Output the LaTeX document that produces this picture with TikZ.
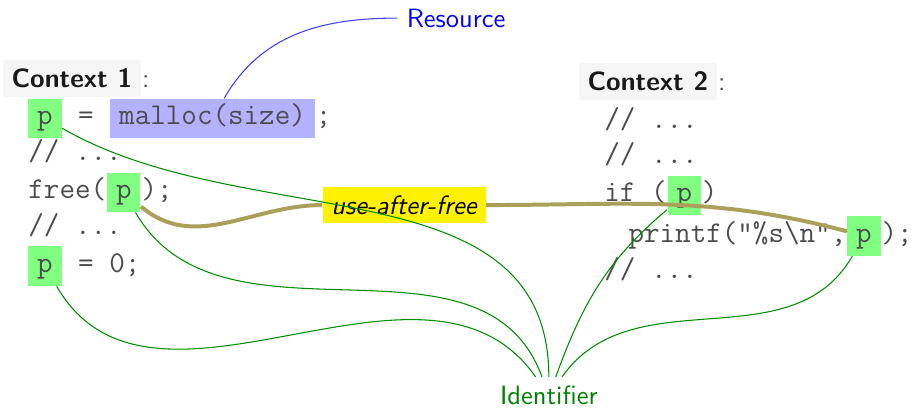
\documentclass[tikz,border=0pt]{standalone}
\usetikzlibrary{positioning}
\definecolor{uafcol}{RGB}{170,160,90}

\begin{document}
\begin{tikzpicture}[node distance=0pt]
	\useasboundingbox (0,0) rectangle (12.11,5.41);
	
	% Define styles
	\tikzstyle{codetxt} = [font=\fontsize{11.4}{13}\selectfont\ttfamily, text=black!70, inner sep=0pt, text height=6.5pt, text depth=1.7pt]
	\tikzstyle{idbox} = [codetxt, fill=green!50, inner sep=3.33pt]
	\tikzstyle{resbox} = [codetxt, fill=blue!30, inner sep=3.33pt]
	\tikzstyle{ctxbox} = [fill=black!4, font=\sffamily\bfseries, text=black!90]
	\tikzstyle{idline} = [green!55!black, line width=0.4pt]
	\tikzstyle{uafline} = [uafcol, line width=1.5pt]
	
	% Context 1
	\node[ctxbox, anchor=west] (ctx1) at (0.03,4.37) {Context 1};
	\node[anchor=base west, inner sep=0pt, font=\sffamily, text=black!75] (col1) at (ctx1.base east) {:};
	\node[idbox, anchor=west] (p1) at (0.37,3.84) {p};
	\node[codetxt, right=of p1] (eq1) {~=~\null};
	\node[resbox, right=of eq1] (malloc) {malloc(size)};
	\node[codetxt, right=of malloc] (semi1) {;};
	\node[codetxt, anchor=west] (dots1) at (0.37,3.36) {//~...};
	\node[codetxt, anchor=west] (free) at (0.37,2.86) {free(};
	\node[idbox, right=of free] (freep) {p};
	\node[codetxt, right=of freep] (semi2) {);};
	\node[codetxt, anchor=west] (dots2) at (0.37,2.38) {//~...};
	\node[idbox, anchor=west] (p0) at (0.37,1.88) {p};
	\node[codetxt, right=of p0] (eq0) {~=~0;};
	
	% Context 2
	\node[ctxbox, anchor=west] (ctx2) at (7.67,4.33) {Context 2};
	\node[anchor=base west, inner sep=0pt, font=\sffamily, text=black!75] (col2) at (ctx2.base east) {:};
	\node[codetxt, anchor=west] (dots3) at (8.01,3.79) {//~...};
	\node[codetxt, anchor=west] (dots4) at (8.01,3.32) {//~...};
	\node[codetxt, anchor=west] (iftxt) at (8.01,2.82) {if~(};
	\node[idbox, right=of iftxt] (ifp) {p};
	\node[codetxt, right=of ifp] (par) {)};
	\node[codetxt, anchor=west] (printf) at (8.33,2.28) {printf("\%s\textbackslash{}n",};
	\node[idbox, right=of printf] (pp) {p};
	\node[codetxt, right=of pp] (semi3) {);};
	\node[codetxt, anchor=west] (dots5) at (8.01,1.80) {//~...};
	
	% Labels
	\node[text=blue, font=\sffamily] (res) at (6.05,5.17) {Resource};
	\node[text=green!50!black, font=\sffamily] (id) at (7.28,0.16) {Identifier};
	\node[fill=yellow, font=\sffamily\itshape] (uaf) at (5.36,2.69) {use-after-free};
	
	% Links
	\draw[uafline] (freep) to[out=-40, in=180] (uaf);
	\draw[uafline] (uaf) to[out=0, in=165] (pp);
	\draw[blue!75, line width=0.4pt] (malloc) to[out=60, in=180] (res);
	\draw[idline] (p1) to[out=-30, in=90] (id);
	\draw[idline] (freep) to[out=-60, in=110] (id);
	\draw[idline] (p0) to[out=-60, in=125] (id);
	\draw[idline] (ifp) to[out=-140, in=70] (id);
	\draw[idline] (pp) to[out=-120, in=55] (id);
	
\end{tikzpicture}
\end{document}
